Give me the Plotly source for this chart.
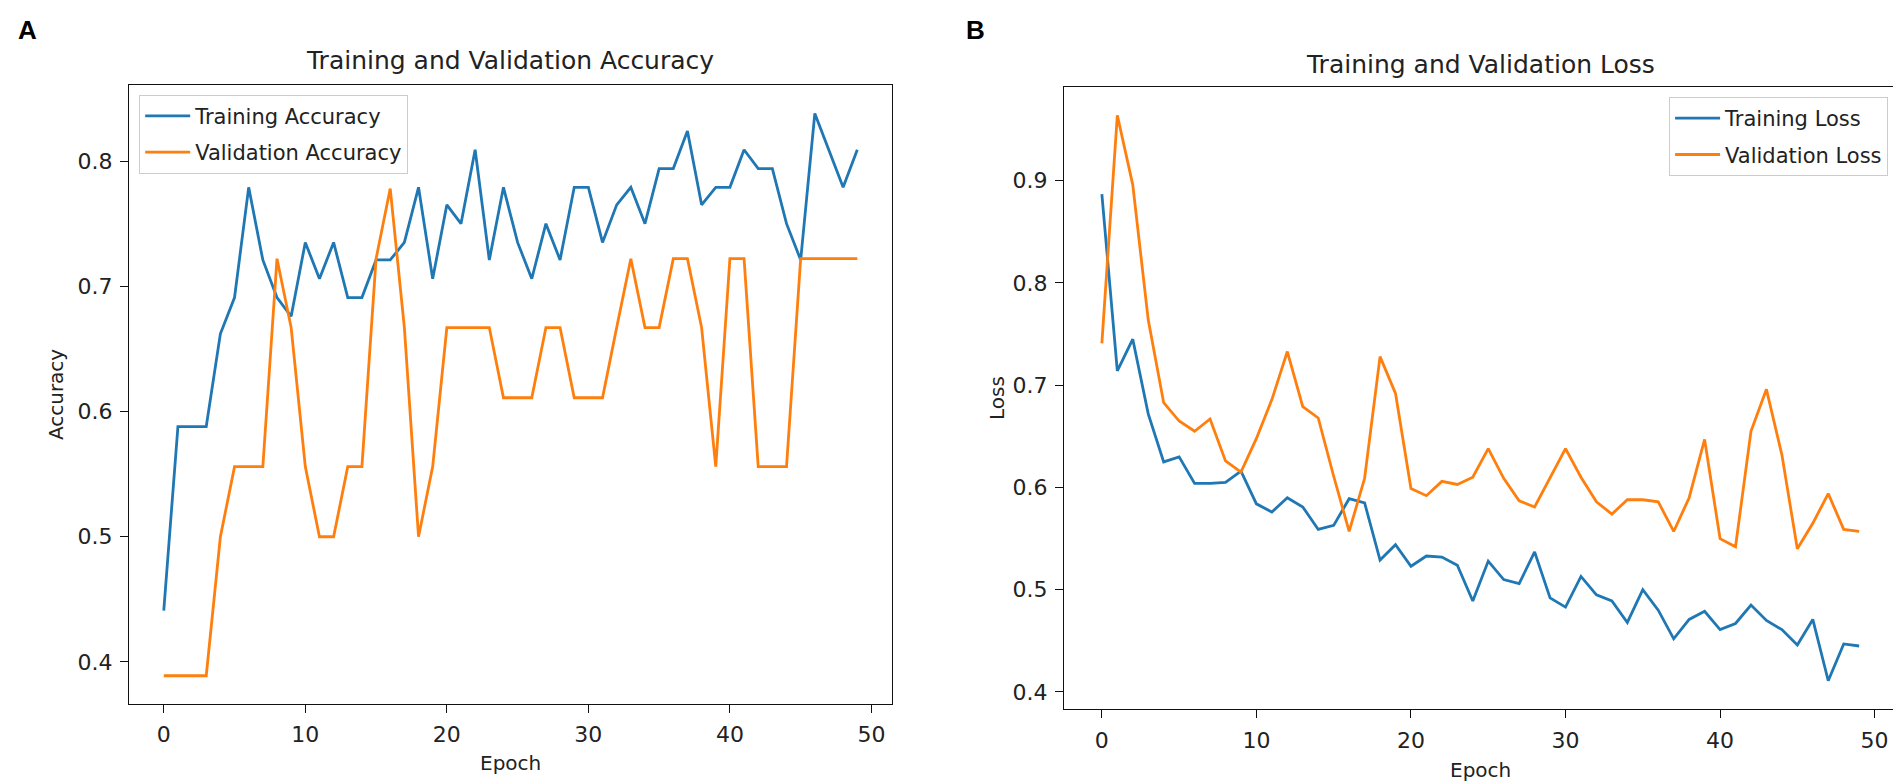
import plotly.graph_objects as go

# Values
epochs = list(range(50))

train_acc = [0.441, 0.588, 0.588, 0.588, 0.662, 0.691, 0.779, 0.721, 0.691, 0.676,
             0.735, 0.706, 0.735, 0.691, 0.691, 0.721, 0.721, 0.735, 0.779, 0.706,
             0.765, 0.750, 0.809, 0.721, 0.779, 0.735, 0.706, 0.750, 0.721, 0.779,
             0.779, 0.735, 0.765, 0.779, 0.750, 0.794, 0.794, 0.824, 0.765, 0.779,
             0.779, 0.809, 0.794, 0.794, 0.750, 0.721, 0.838, 0.809, 0.779, 0.809]
val_acc = [0.389, 0.389, 0.389, 0.389, 0.500, 0.556, 0.556, 0.556, 0.722, 0.667,
           0.556, 0.500, 0.500, 0.556, 0.556, 0.722, 0.778, 0.667, 0.500, 0.556,
           0.667, 0.667, 0.667, 0.667, 0.611, 0.611, 0.611, 0.667, 0.667, 0.611,
           0.611, 0.611, 0.667, 0.722, 0.667, 0.667, 0.722, 0.722, 0.667, 0.556,
           0.722, 0.722, 0.556, 0.556, 0.556, 0.722, 0.722, 0.722, 0.722, 0.722]

train_loss = [0.887, 0.714, 0.745, 0.672, 0.625, 0.630, 0.604, 0.604, 0.605, 0.616,
              0.584, 0.576, 0.590, 0.581, 0.559, 0.563, 0.589, 0.585, 0.529, 0.544,
              0.523, 0.533, 0.532, 0.524, 0.489, 0.528, 0.510, 0.506, 0.537, 0.492,
              0.483, 0.513, 0.495, 0.489, 0.468, 0.500, 0.480, 0.452, 0.471, 0.479,
              0.461, 0.467, 0.485, 0.470, 0.461, 0.446, 0.471, 0.411, 0.447, 0.445]
val_loss = [0.741, 0.964, 0.896, 0.764, 0.683, 0.665, 0.655, 0.667, 0.626, 0.615,
            0.648, 0.686, 0.733, 0.679, 0.668, 0.611, 0.557, 0.609, 0.728, 0.692,
            0.599, 0.592, 0.606, 0.603, 0.610, 0.638, 0.609, 0.587, 0.581, 0.610,
            0.638, 0.610, 0.586, 0.574, 0.588, 0.588, 0.586, 0.557, 0.590, 0.647,
            0.550, 0.542, 0.655, 0.696, 0.632, 0.540, 0.565, 0.594, 0.559, 0.557]

x_ticks = [0, 10, 20, 30, 40, 50]
acc_ticks = [0.4, 0.5, 0.6, 0.7, 0.8]
loss_ticks = [0.4, 0.5, 0.6, 0.7, 0.8, 0.9]

BLUE = "#1f77b4"
ORANGE = "#ff7f0e"
FONT = "DejaVu Sans"
TEXT = "#222222"


def auto_range(*series):
    # matplotlib style 5% padding
    lo = min(min(s) for s in series)
    hi = max(max(s) for s in series)
    pad = (hi - lo) * 0.05
    return [lo - pad, hi + pad]


def line(x, y, name, color, ax, leg):
    return go.Scatter(x=x, y=y, mode="lines", name=name, legendgroup=name,
                      line=dict(color=color, width=2.8),
                      xaxis="x" + ax, yaxis="y" + ax, legend=leg)


fig = go.Figure()
fig.add_trace(line(epochs, train_acc, "Training Accuracy", BLUE, "", "legend"))
fig.add_trace(line(epochs, val_acc, "Validation Accuracy", ORANGE, "", "legend"))
fig.add_trace(line(epochs, train_loss, "Training Loss", BLUE, "2", "legend2"))
fig.add_trace(line(epochs, val_loss, "Validation Loss", ORANGE, "2", "legend2"))

axis_style = dict(showline=True, mirror=True, linecolor="#111111", linewidth=1.3,
                  ticks="outside", ticklen=8, tickwidth=1.3, tickcolor="#111111",
                  showgrid=False, zeroline=False, automargin=False,
                  ticklabelstandoff=3,
                  tickfont=dict(family=FONT, size=22, color=TEXT))

x_rng = [-2.45, 51.45]

legend_style = dict(bgcolor="rgba(255,255,255,0.8)", bordercolor="#cccccc", borderwidth=1,
                    tracegroupgap=6, itemwidth=45,
                    font=dict(family=FONT, size=21, color=TEXT))

fig.update_layout(
    width=1901, height=781,
    margin=dict(l=0, r=0, t=0, b=0),
    paper_bgcolor="white", plot_bgcolor="white",
    font=dict(family=FONT, size=20, color=TEXT),
    xaxis=dict(domain=[0.0637, 0.465], range=x_rng, tickvals=x_ticks, anchor="y", **axis_style),
    yaxis=dict(domain=[0.109, 0.901], range=auto_range(train_acc, val_acc), tickvals=acc_ticks,
               tickformat=".1f", anchor="x", **axis_style),
    xaxis2=dict(domain=[0.5555, 0.9937], range=x_rng, tickvals=x_ticks, anchor="y2", **axis_style),
    yaxis2=dict(domain=[0.1024, 0.8988], range=auto_range(train_loss, val_loss), tickvals=loss_ticks,
                tickformat=".1f", anchor="x2", **axis_style),
    legend=dict(x=0.069, y=0.889, xanchor="left", yanchor="top", **legend_style),
    legend2=dict(x=0.989, y=0.886, xanchor="right", yanchor="top", **legend_style),
)

notes = [
    dict(text="<b>A</b>", x=0.004, y=0.972, size=26, family="Liberation Sans", angle=0, anchor="left"),
    dict(text="<b>B</b>", x=0.503, y=0.972, size=26, family="Liberation Sans", angle=0, anchor="left"),
    dict(text="Training and Validation Accuracy", x=0.2643, y=0.933, size=25, family=FONT, angle=0, anchor="center"),
    dict(text="Training and Validation Loss", x=0.7746, y=0.928, size=25, family=FONT, angle=0, anchor="center"),
    dict(text="Epoch", x=0.2643, y=0.033, size=20, family=FONT, angle=0, anchor="center"),
    dict(text="Epoch", x=0.7746, y=0.024, size=20, family=FONT, angle=0, anchor="center"),
    dict(text="Accuracy", x=0.025, y=0.505, size=20, family=FONT, angle=-90, anchor="center"),
    dict(text="Loss", x=0.52, y=0.500, size=20, family=FONT, angle=-90, anchor="center"),
]
for n in notes:
    fig.add_annotation(text=n["text"], x=n["x"], y=n["y"], xref="paper", yref="paper",
                       xanchor=n["anchor"], yanchor="middle", showarrow=False,
                       textangle=n["angle"],
                       font=dict(family=n["family"], size=n["size"],
                                 color="black" if n["anchor"] == "left" else TEXT))

fig.write_html("out.html")
